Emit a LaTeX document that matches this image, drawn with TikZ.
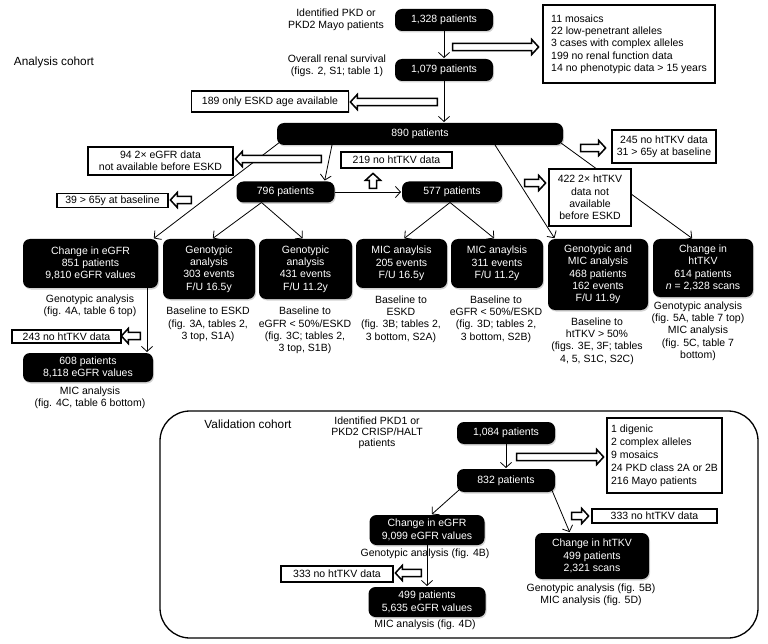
\documentclass[tikz,border=0pt]{standalone}
\usepackage{fontspec}
\setmainfont{Liberation Sans}
\usetikzlibrary{arrows.meta,shapes.arrows,shadows}

\begin{document}
\begin{tikzpicture}[x=1pt, y=-1pt,
    every node/.style={font=\fontsize{10.5}{12.3}\selectfont, align=center, inner sep=0pt, outer sep=0pt},
    head/.style={font=\fontsize{11.8}{14}\selectfont},
    blk/.style={fill=black, text=white, rounded corners=7pt, drop shadow={shadow xshift=1pt, shadow yshift=-1.5pt, opacity=0.35}},
    excl/.style={draw, line width=1.6pt, fill=white, drop shadow={shadow xshift=1pt, shadow yshift=-1pt, opacity=0.25}},
    lnk/.style={line width=0.8pt, shorten >=1pt, -{Straight Barb[length=5pt, width=11pt, line width=0.8pt]}},
    hol/.style={single arrow, draw, fill=white, line width=1.5pt, inner xsep=0pt, inner ysep=2.8pt, single arrow head extend=4pt, single arrow tip angle=95},
  ]
  \useasboundingbox (0,0) rectangle (768,644);

  % analysis cohort
  \node[head] (tana) at (54,62) {Analysis cohort};
  \node (tid) at (336,20) {Identified PKD or\\PKD2 Mayo patients};
  \node[blk, minimum width=98, minimum height=22] (p1328) at (444,20) {1,328 patients};
  \node (tsurv) at (337,66) {Overall renal survival\\(figs. 2, S1; table 1)};
  \node[blk, minimum width=98, minimum height=22] (p1079) at (444,70) {1,079 patients};
  \node[blk, minimum width=286, minimum height=22] (p890) at (420,134) {890 patients};
  \node[blk, minimum width=98, minimum height=21] (p796) at (285.5,192) {796 patients};
  \node[blk, minimum width=100, minimum height=21] (p577) at (452,192) {577 patients};

  % second row
  \node[blk, minimum width=135, minimum height=49] (eg) at (90.5,263.5) {Change in eGFR\\851 patients\\9,810 eGFR values};
  \node[blk, minimum width=92, minimum height=60] (g1) at (209,269) {Genotypic\\analysis\\303 events\\F/U 16.5y};
  \node[blk, minimum width=93, minimum height=60] (g2) at (305.5,269) {Genotypic\\analysis\\431 events\\F/U 11.2y};
  \node[blk, minimum width=91, minimum height=49] (m1) at (401.5,263.5) {MIC anaylsis\\205 events\\F/U 16.5y};
  \node[blk, minimum width=92, minimum height=49] (m2) at (497,263.5) {MIC anaylsis\\311 events\\F/U 11.2y};
  \node[blk, minimum width=100, minimum height=71] (gm) at (598,274.5) {Genotypic and\\MIC analysis\\468 patients\\162 events\\F/U 11.9y};
  \node[blk, minimum width=100, minimum height=58] (tk) at (703,268) {Change in\\htTKV\\614 patients\\\textit{n} = 2,328 scans};
  \node[blk, minimum width=130, minimum height=29] (p608) at (88,367.5) {608 patients\\8,118 eGFR values};

  \node (l1) at (90,306) {Genotypic analysis\\(fig. 4A, table 6 top)};
  \node (l2) at (208,324.5) {Baseline to ESKD\\(fig. 3A, tables 2,\\3 top, S1A)};
  \node (l3) at (305,330.5) {Baseline to\\eGFR < 50\%/ESKD\\(fig. 3C; tables 2,\\3 top, S1B)};
  \node (l4) at (401,319) {Baseline to\\ESKD\\(fig. 3B; tables 2,\\3 bottom, S2A)};
  \node (l5) at (496,319) {Baseline to\\eGFR < 50\%/ESKD\\(fig. 3D; tables 2,\\3 bottom, S2B)};
  \node (l6) at (597,341) {Baseline to\\htTKV > 50\%\\(figs. 3E, 3F; tables\\4, 5, S1C, S2C)};
  \node (l7) at (698,331) {Genotypic analysis\\(fig. 5A, table 7 top)\\MIC analysis\\(fig. 5C, table 7\\bottom)};
  \node (l8) at (90,398) {MIC analysis\\(fig. 4C, table 6 bottom)};

  \draw[lnk] (p1328) -- (p1079);
  \draw[lnk] (p1079.south) -- (p1079.south |- p890.north);
  \draw[lnk] ([xshift=3pt,yshift=3pt]p890.south west) -- ([xshift=-5pt]eg.north east);
  \draw[lnk] ([xshift=55pt]p890.south west) -- ([xshift=-10pt]p796.north east);
  \draw[lnk] ([xshift=-68pt]p890.south east) -- ([xshift=7pt]gm.north west);
  \draw[lnk] ([xshift=-2pt,yshift=2pt]p890.south east) -- ([xshift=-10pt]tk.north);
  \draw[lnk] (p796) -- (p577);
  \foreach \t/\s in {g1/3, g2/-2}
    \draw[lnk] ([xshift=-24pt]p796.south) -- ([xshift=\s pt]\t.north);
  \foreach \t/\s in {m1/2, m2/-2}
    \draw[lnk] ([xshift=-2pt]p577.south) -- ([xshift=\s pt]\t.north);
  \draw[lnk] ([xshift=-11pt]eg.south east) -- ([xshift=-11pt]eg.south east |- p608.north);

  % exclusions
  \node[excl, minimum width=172, minimum height=78, align=left] (x1) at (629,44) {11 mosaics\\22 low-penetrant alleles\\3 cases with complex alleles\\199 no renal function data\\14 no phenotypic data > 15 years};
  \node[excl, minimum width=157, minimum height=21] (x189) at (270,101.5) {189 only ESKD age available};
  \node[excl, minimum width=145, minimum height=28] (x94) at (160.5,161) {94 2× eGFR data\\not available before ESKD};
  \node[excl, minimum width=111, minimum height=16] (x219) at (396.5,160) {219 no htTKV data};
  \node[excl, minimum width=104, minimum height=33] (x245) at (664,146.5) {245 no htTKV data\\31 > 65y at baseline};
  \node[excl, minimum width=111, minimum height=14] (x39) at (112.5,200.5) {39 > 65y at baseline};
  \node[excl, minimum width=82, minimum height=57] (x422) at (590,197.5) {422 2× htTKV\\data not\\available\\before ESKD};
  \node[excl, minimum width=109, minimum height=13] (x243) at (66.5,336.5) {243 no htTKV data};

  \node[hol, minimum height=86] (h1) at (494,47) {};
  \node[hol, minimum height=87, rotate=180] (h2) at (395.5,102) {};
  \node[hol, minimum height=86, rotate=180] (h3) at (280,159) {};
  \node[hol, minimum height=21, rotate=180] (h4) at (182.5,200) {};
  \node[hol, minimum height=15, rotate=90] (h5) at (373,182.5) {};
  \node[hol, minimum height=25] (h6) at (591.5,148) {};
  \node[hol, minimum height=21] (h7) at (533.5,183) {};
  \node[hol, minimum height=19, rotate=180] (h8) at (132.5,336) {};

  % validation cohort
  \draw[line width=1.3pt, rounded corners=30pt] (160,411) rectangle (758,638);
  \node[head] (tval) at (248,424) {Validation cohort};
  \node[font=\fontsize{10.5}{11}\selectfont] (tid2) at (377,433) {Identified PKD1 or\\PKD2 CRISP/HALT\\patients};
  \node[blk, minimum width=98, minimum height=22] (v1084) at (506,433) {1,084 patients};
  \node[blk, minimum width=98, minimum height=23] (v832) at (506,480.5) {832 patients};
  \node[blk, minimum width=115, minimum height=30] (veg) at (427,530) {Change in eGFR\\9,099 eGFR values};
  \node (lv1) at (425,554) {Genotypic analysis (fig. 4B)};
  \node[blk, minimum width=117, minimum height=30] (v499) at (427,602) {499 patients\\5,635 eGFR values};
  \node (lv2) at (425,625) {MIC analysis (fig. 4D)};
  \node[blk, minimum width=114, minimum height=46] (vtk) at (592,556) {Change in htTKV\\499 patients\\2,321 scans};
  \node (lv3) at (591,595) {Genotypic analysis (fig. 5B)\\MIC analysis (fig. 5D)};

  \draw[lnk] (v1084) -- (v832);
  \draw[lnk] ([xshift=2pt,yshift=2pt]v832.south west) -- ([xshift=4pt]veg.north);
  \draw[lnk] ([xshift=-4pt,yshift=4pt]v832.south east) -- ([xshift=-22pt]vtk.north);
  \draw[lnk] (veg) -- (v499);

  \node[excl, minimum width=115, minimum height=75, align=left, font=\fontsize{10.5}{13}\selectfont] (vx1) at (664.5,455.5) {1 digenic\\2 complex alleles\\9 mosaics\\24 PKD class 2A or 2B\\216 Mayo patients};
  \node[excl, minimum width=112, minimum height=16] (vx2) at (337,574) {333 no htTKV data};
  \node[excl, minimum width=125, minimum height=14] (vx3) at (654.5,516) {333 no htTKV data};

  \node[hol, minimum height=87] (h9) at (558.5,457) {};
  \node[hol, minimum height=26, rotate=180] (h10) at (410,573) {};
  \node[hol, minimum height=17] (h11) at (578.5,516) {};
\end{tikzpicture}
\end{document}
